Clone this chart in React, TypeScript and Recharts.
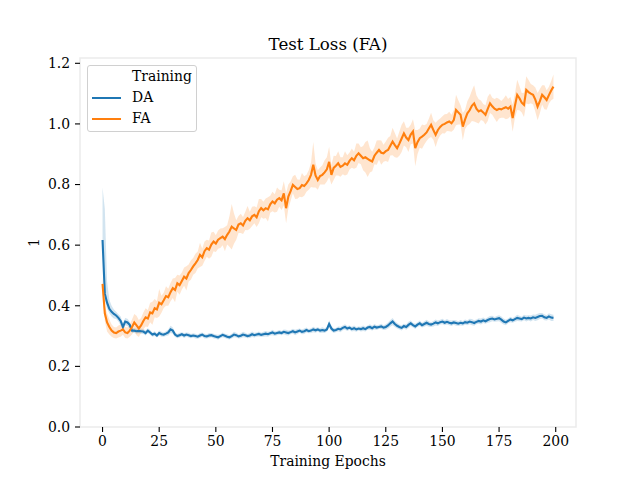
import React from 'react';
import { ComposedChart, Line, Area, XAxis, YAxis, ReferenceArea, Legend } from 'recharts';

const FONT = 'DejaVu Serif';
const DA_COLOR = '#1f77b4';
const FA_COLOR = '#ff7f0e';

const epochs = Array.from({ length: 200 }, (_, i) => i);

const daMean = [
  0.617, 0.440, 0.410, 0.390, 0.380, 0.373, 0.368, 0.360, 0.350, 0.330,
  0.348, 0.345, 0.337, 0.318, 0.318, 0.316, 0.317, 0.316, 0.315, 0.310,
  0.318, 0.312, 0.305, 0.308, 0.302, 0.310, 0.306, 0.305, 0.308, 0.312,
  0.322, 0.318, 0.305, 0.300, 0.303, 0.306, 0.302, 0.305, 0.303, 0.300,
  0.302, 0.300, 0.298, 0.302, 0.305, 0.300, 0.299, 0.302, 0.303, 0.300,
  0.298, 0.296, 0.300, 0.304, 0.301, 0.298, 0.296, 0.300, 0.305, 0.303,
  0.299, 0.301, 0.305, 0.303, 0.300, 0.302, 0.306, 0.303, 0.305, 0.307,
  0.304, 0.306, 0.308, 0.306, 0.309, 0.312, 0.308, 0.310, 0.312, 0.310,
  0.314, 0.312, 0.310, 0.313, 0.316, 0.312, 0.315, 0.318, 0.314, 0.316,
  0.320, 0.316, 0.318, 0.322, 0.319, 0.322, 0.318, 0.320, 0.318, 0.322,
  0.340, 0.325, 0.318, 0.320, 0.324, 0.322, 0.327, 0.330, 0.325, 0.328,
  0.323, 0.326, 0.322, 0.325, 0.323, 0.326, 0.323, 0.328, 0.330, 0.326,
  0.331, 0.328, 0.330, 0.332, 0.328, 0.330, 0.335, 0.342, 0.348, 0.340,
  0.334, 0.330, 0.327, 0.333, 0.330, 0.337, 0.342, 0.336, 0.332, 0.338,
  0.342, 0.336, 0.340, 0.344, 0.340, 0.338, 0.341, 0.345, 0.342, 0.346,
  0.348, 0.344, 0.347, 0.344, 0.342, 0.345, 0.343, 0.341, 0.344, 0.342,
  0.346, 0.344, 0.348, 0.346, 0.343, 0.347, 0.350, 0.348, 0.352, 0.349,
  0.353, 0.356, 0.358, 0.355, 0.357, 0.359, 0.354, 0.348, 0.345, 0.350,
  0.355, 0.352, 0.356, 0.360, 0.358, 0.356, 0.361, 0.358, 0.360, 0.358,
  0.362, 0.360, 0.363, 0.366, 0.367, 0.362, 0.360, 0.365, 0.361, 0.360,
];

const daCi = [
  0.015, 0.020, 0.020, 0.015, 0.015, 0.015, 0.012, 0.012, 0.015, 0.012,
  0.012, 0.012, 0.010, 0.008, 0.008, 0.008, 0.008, 0.008, 0.008, 0.008,
  0.008, 0.008, 0.007, 0.008, 0.007, 0.008, 0.008, 0.007, 0.008, 0.010,
  0.012, 0.010, 0.008, 0.007, 0.008, 0.007, 0.008, 0.007, 0.008, 0.007,
  0.007, 0.008, 0.007, 0.008, 0.007, 0.008, 0.007, 0.008, 0.007, 0.008,
  0.007, 0.008, 0.007, 0.008, 0.007, 0.008, 0.007, 0.008, 0.009, 0.008,
  0.007, 0.008, 0.009, 0.008, 0.007, 0.008, 0.009, 0.008, 0.007, 0.008,
  0.007, 0.008, 0.009, 0.008, 0.007, 0.009, 0.008, 0.007, 0.008, 0.007,
  0.008, 0.009, 0.008, 0.007, 0.008, 0.009, 0.008, 0.007, 0.008, 0.009,
  0.008, 0.007, 0.008, 0.009, 0.008, 0.007, 0.008, 0.009, 0.008, 0.008,
  0.012, 0.009, 0.008, 0.007, 0.008, 0.009, 0.008, 0.009, 0.008, 0.007,
  0.008, 0.009, 0.008, 0.007, 0.008, 0.009, 0.008, 0.007, 0.009, 0.008,
  0.009, 0.008, 0.007, 0.009, 0.008, 0.009, 0.010, 0.011, 0.012, 0.010,
  0.009, 0.008, 0.009, 0.008, 0.009, 0.010, 0.009, 0.008, 0.009, 0.008,
  0.009, 0.008, 0.009, 0.010, 0.009, 0.008, 0.009, 0.010, 0.009, 0.008,
  0.009, 0.008, 0.009, 0.008, 0.009, 0.008, 0.009, 0.008, 0.009, 0.008,
  0.009, 0.008, 0.009, 0.010, 0.009, 0.008, 0.009, 0.010, 0.009, 0.008,
  0.009, 0.010, 0.009, 0.008, 0.009, 0.010, 0.011, 0.010, 0.009, 0.008,
  0.009, 0.008, 0.009, 0.010, 0.009, 0.008, 0.009, 0.010, 0.009, 0.010,
  0.009, 0.010, 0.011, 0.010, 0.009, 0.010, 0.009, 0.010, 0.011, 0.010,
];

// upper edge of the DA band for the first epochs (very wide, asymmetric)
const daUpperEarly = [0.79, 0.72, 0.48, 0.42, 0.40];

const faMean = [
  0.472, 0.375, 0.345, 0.330, 0.318, 0.312, 0.310, 0.315, 0.318, 0.322,
  0.312, 0.310, 0.318, 0.330, 0.345, 0.335, 0.325, 0.335, 0.350, 0.362,
  0.358, 0.378, 0.375, 0.392, 0.388, 0.410, 0.405, 0.418, 0.432, 0.428,
  0.445, 0.458, 0.452, 0.474, 0.468, 0.482, 0.496, 0.490, 0.508, 0.518,
  0.530, 0.540, 0.551, 0.568, 0.560, 0.580, 0.590, 0.585, 0.602, 0.612,
  0.605, 0.618, 0.623, 0.628, 0.620, 0.634, 0.645, 0.661, 0.655, 0.650,
  0.668, 0.672, 0.665, 0.680, 0.689, 0.682, 0.695, 0.700, 0.692, 0.712,
  0.722, 0.715, 0.722, 0.718, 0.735, 0.744, 0.738, 0.750, 0.755, 0.748,
  0.771, 0.722, 0.760, 0.778, 0.799, 0.792, 0.785, 0.788, 0.798, 0.795,
  0.804, 0.815, 0.832, 0.865, 0.830, 0.815, 0.828, 0.832, 0.840, 0.850,
  0.875, 0.832, 0.855, 0.862, 0.870, 0.858, 0.862, 0.870, 0.865, 0.878,
  0.887, 0.880, 0.895, 0.903, 0.895, 0.887, 0.890, 0.885, 0.880, 0.876,
  0.895, 0.905, 0.914, 0.905, 0.903, 0.910, 0.914, 0.928, 0.942, 0.930,
  0.920, 0.935, 0.952, 0.969, 0.955, 0.947, 0.965, 0.975, 0.920, 0.940,
  0.953, 0.958, 0.964, 0.972, 0.985, 0.997, 0.980, 0.964, 0.980, 0.990,
  0.997, 1.000, 1.005, 1.008, 1.002, 1.013, 1.046, 1.038, 1.030, 0.991,
  1.015, 1.035, 1.045, 1.060, 1.068, 1.050, 1.041, 1.045, 1.038, 1.030,
  1.050, 1.068, 1.058, 1.050, 1.046, 1.050, 1.048, 1.052, 1.055, 1.050,
  1.057, 1.019, 1.060, 1.096, 1.085, 1.070, 1.063, 1.112, 1.105, 1.100,
  1.096, 1.080, 1.057, 1.075, 1.096, 1.088, 1.079, 1.095, 1.110, 1.123,
];

const faCi = [
  0.025, 0.025, 0.030, 0.025, 0.020, 0.018, 0.018, 0.020, 0.020, 0.018,
  0.018, 0.018, 0.020, 0.025, 0.028, 0.032, 0.028, 0.025, 0.028, 0.030,
  0.028, 0.032, 0.038, 0.030, 0.028, 0.045, 0.028, 0.025, 0.032, 0.028,
  0.030, 0.032, 0.040, 0.028, 0.032, 0.028, 0.030, 0.040, 0.028, 0.032,
  0.028, 0.032, 0.028, 0.040, 0.028, 0.032, 0.028, 0.030, 0.040, 0.032,
  0.028, 0.030, 0.032, 0.028, 0.040, 0.032, 0.050, 0.075, 0.050, 0.032,
  0.028, 0.032, 0.028, 0.030, 0.040, 0.028, 0.032, 0.028, 0.032, 0.040,
  0.030, 0.028, 0.032, 0.040, 0.028, 0.032, 0.030, 0.040, 0.028, 0.032,
  0.040, 0.050, 0.040, 0.032, 0.028, 0.040, 0.032, 0.028, 0.040, 0.032,
  0.028, 0.032, 0.040, 0.075, 0.040, 0.032, 0.028, 0.032, 0.040, 0.040,
  0.050, 0.032, 0.040, 0.032, 0.040, 0.032, 0.028, 0.040, 0.032, 0.028,
  0.032, 0.028, 0.040, 0.032, 0.028, 0.040, 0.050, 0.060, 0.040, 0.032,
  0.028, 0.040, 0.032, 0.040, 0.028, 0.032, 0.040, 0.032, 0.045, 0.040,
  0.032, 0.040, 0.045, 0.040, 0.032, 0.040, 0.032, 0.040, 0.060, 0.040,
  0.032, 0.040, 0.032, 0.028, 0.032, 0.040, 0.032, 0.040, 0.032, 0.028,
  0.028, 0.032, 0.028, 0.032, 0.028, 0.032, 0.050, 0.040, 0.032, 0.045,
  0.032, 0.040, 0.045, 0.050, 0.060, 0.045, 0.040, 0.032, 0.028, 0.032,
  0.040, 0.032, 0.028, 0.032, 0.040, 0.032, 0.028, 0.032, 0.040, 0.032,
  0.032, 0.045, 0.040, 0.050, 0.040, 0.032, 0.040, 0.045, 0.040, 0.032,
  0.032, 0.040, 0.045, 0.040, 0.032, 0.040, 0.032, 0.028, 0.032, 0.040,
];

const xTicks = [0, 25, 50, 75, 100, 125, 150, 175, 200];
const yTicks = [0, 0.2, 0.4, 0.6, 0.8, 1.0, 1.2];
const xDomain = [-9.95, 208.95];
const yDomain = [0, 1.2175];
const seriesNames = ['DA', 'FA'];
const legendTitle = 'Training';
const chartTitle = 'Test Loss (FA)';
const xLabel = 'Training Epochs';
const yLabel = '1';

const data = epochs.map((e, i) => ({
  epoch: e,
  DA: daMean[i],
  FA: faMean[i],
  daBand: [daMean[i] - daCi[i], i < daUpperEarly.length ? daUpperEarly[i] : daMean[i] + daCi[i]],
  faBand: [faMean[i] - faCi[i], faMean[i] + faCi[i]],
}));

const tickStyle = { fill: '#000', fontSize: 13.9, fontFamily: FONT };

const renderLegend = () => (
  <div
    style={{
      width: 110,
      height: 67,
      boxSizing: 'border-box',
      border: '1px solid #d0d0d0',
      borderRadius: 3,
      background: 'rgba(255,255,255,0.8)',
      fontFamily: FONT,
      fontSize: 13.9,
      color: '#000',
      position: 'relative',
    }}
  >
    <div style={{ position: 'absolute', left: 44, top: 0, height: 21, lineHeight: '21px' }}>{legendTitle}</div>
    {seriesNames.map((name, k) => (
      <div key={name} style={{ position: 'absolute', left: 0, top: 21 * (k + 1), height: 21, width: 108 }}>
        <div
          style={{
            position: 'absolute',
            left: 4,
            top: 10,
            width: 29,
            height: 2,
            background: k === 0 ? DA_COLOR : FA_COLOR,
          }}
        />
        <div style={{ position: 'absolute', left: 44, top: 0, lineHeight: '21px' }}>{name}</div>
      </div>
    ))}
  </div>
);

export default function App() {
  return (
    <div style={{ position: 'absolute', left: 0, top: 0, width: 640, height: 480, background: '#fff' }}>
      <ComposedChart
        width={640}
        height={480}
        data={data}
        margin={{ top: 58, right: 64, bottom: 0, left: 0 }}
      >
        <ReferenceArea
          x1={xDomain[0]}
          x2={xDomain[1]}
          y1={yDomain[0]}
          y2={yDomain[1]}
          fill="none"
          stroke="#ebebeb"
          strokeWidth={1.5}
          ifOverflow="visible"
        />
        <XAxis
          dataKey="epoch"
          type="number"
          domain={xDomain}
          ticks={xTicks}
          allowDataOverflow
          height={53}
          axisLine={false}
          tickLine={{ stroke: '#000', strokeWidth: 1.1 }}
          tickSize={5}
          tickMargin={4}
          tick={tickStyle}
          interval={0}
          label={{
            content: (props: any) => {
              const vb = props.viewBox || { x: 80, y: 427, width: 496, height: 53 };
              return (
                <text
                  x={vb.x + vb.width / 2}
                  y={vb.y + 39}
                  textAnchor="middle"
                  fontFamily={FONT}
                  fontSize={13.9}
                  fill="#000"
                >
                  {xLabel}
                </text>
              );
            },
          }}
        />
        <YAxis
          type="number"
          domain={yDomain}
          ticks={yTicks}
          allowDataOverflow
          width={80}
          axisLine={false}
          tickLine={{ stroke: '#000', strokeWidth: 1.1 }}
          tickSize={5}
          tickMargin={5}
          tick={tickStyle}
          interval={0}
          tickFormatter={(v: number) => v.toFixed(1)}
          label={{
            content: (props: any) => {
              const vb = props.viewBox || { x: 0, y: 58, width: 80, height: 369 };
              const cx = vb.x + 34;
              const cy = vb.y + vb.height / 2;
              return (
                <text
                  x={cx}
                  y={cy}
                  transform={`rotate(-90 ${cx} ${cy})`}
                  textAnchor="middle"
                  dominantBaseline="central"
                  fontFamily={FONT}
                  fontSize={13.9}
                  fill="#000"
                >
                  {yLabel}
                </text>
              );
            },
          }}
        />
        <Line
          dataKey="DA"
          type="linear"
          stroke={DA_COLOR}
          strokeWidth={2.1}
          dot={false}
          activeDot={false}
          isAnimationActive={false}
        />
        <Area
          dataKey="daBand"
          type="linear"
          stroke="none"
          fill={DA_COLOR}
          fillOpacity={0.2}
          dot={false}
          activeDot={false}
          isAnimationActive={false}
          legendType="none"
        />
        <Line
          dataKey="FA"
          type="linear"
          stroke={FA_COLOR}
          strokeWidth={2.1}
          dot={false}
          activeDot={false}
          isAnimationActive={false}
        />
        <Area
          dataKey="faBand"
          type="linear"
          stroke="none"
          fill={FA_COLOR}
          fillOpacity={0.2}
          dot={false}
          activeDot={false}
          isAnimationActive={false}
          legendType="none"
        />
        <Legend
          layout="vertical"
          align="center"
          verticalAlign="middle"
          content={renderLegend}
          wrapperStyle={{ position: 'absolute', left: 87, top: 65, width: 110, height: 67, margin: 0 }}
        />
      </ComposedChart>
      <svg
        width={640}
        height={60}
        style={{ position: 'absolute', left: 0, top: 0, pointerEvents: 'none' }}
      >
        <text x={328} y={49.5} textAnchor="middle" fontFamily={FONT} fontSize={16.67} fill="#000">
          {chartTitle}
        </text>
      </svg>
    </div>
  );
}
